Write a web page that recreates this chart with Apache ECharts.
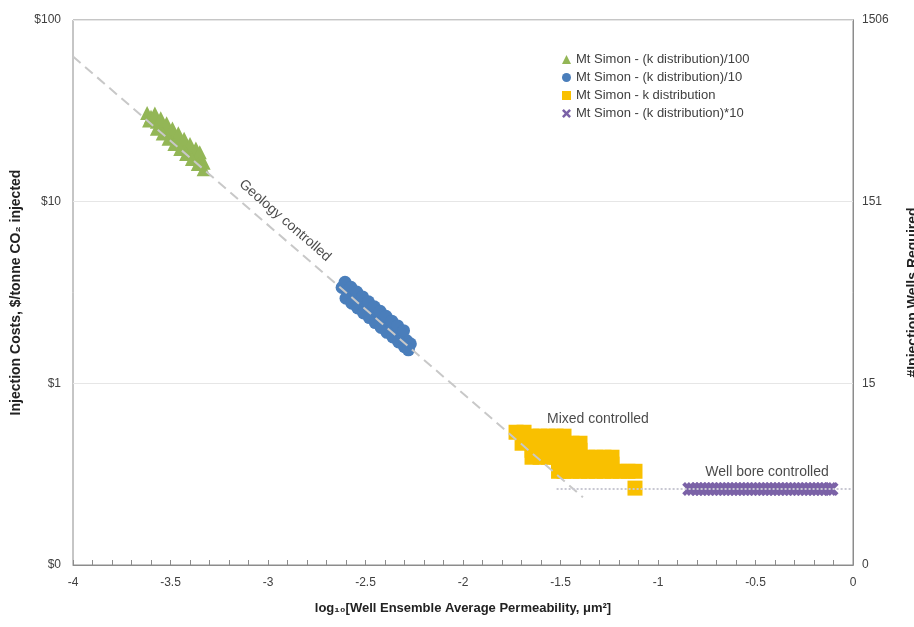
<!DOCTYPE html>
<html>
<head>
<meta charset="utf-8">
<script src="https://cdn.jsdelivr.net/npm/echarts@6/dist/echarts.min.js"></script>
<style>
  html, body { margin: 0; padding: 0; background: #fff; }
  #main { width: 914px; height: 627px; }
</style>
</head>
<body>
<div id="main"></div>
<script>
var myChart = echarts.init(document.getElementById('main'));

// series names
var names = [
    'Mt Simon - (k distribution)/100',
    'Mt Simon - (k distribution)/10',
    'Mt Simon - k distribution',
    'Mt Simon - (k distribution)*10'
];

// [log10 permeability, $/tonne]
var greenPts = [
    [-3.62, 30.8], [-3.61, 28.0],
    [-3.60, 29.3], [-3.57, 27.5], [-3.54, 25.8], [-3.51, 24.2], [-3.48, 22.7],
    [-3.45, 21.3], [-3.42, 19.9], [-3.39, 18.7], [-3.36, 17.5], [-3.33, 16.4],
    [-3.58, 30.6], [-3.55, 28.8], [-3.52, 27.0], [-3.49, 25.3], [-3.46, 23.8],
    [-3.43, 22.2], [-3.40, 20.8], [-3.37, 19.6], [-3.35, 18.7],
    [-3.57, 25.2], [-3.54, 23.7], [-3.51, 22.2], [-3.48, 20.8], [-3.45, 19.5],
    [-3.42, 18.3], [-3.39, 17.2], [-3.36, 16.1], [-3.33, 15.1]
];

var bluePts = [
    [-2.62, 3.37], [-2.59, 3.17], [-2.56, 2.98], [-2.53, 2.80], [-2.50, 2.64],
    [-2.47, 2.48], [-2.44, 2.33], [-2.41, 2.19], [-2.38, 2.06], [-2.35, 1.94],
    [-2.32, 1.83], [-2.29, 1.72], [-2.27, 1.65],
    [-2.605, 3.60], [-2.575, 3.38], [-2.545, 3.18], [-2.515, 2.99], [-2.485, 2.81],
    [-2.455, 2.64], [-2.425, 2.49], [-2.395, 2.34], [-2.365, 2.20], [-2.335, 2.07],
    [-2.305, 1.95],
    [-2.60, 2.94], [-2.57, 2.76], [-2.54, 2.60], [-2.51, 2.44], [-2.48, 2.30],
    [-2.45, 2.16], [-2.42, 2.03], [-2.39, 1.91], [-2.36, 1.80], [-2.33, 1.69],
    [-2.30, 1.59], [-2.28, 1.53]
];

var yellowPts = [
    [-1.728, 0.538], [-1.687, 0.538],
    [-1.646, 0.512], [-1.605, 0.512], [-1.564, 0.512], [-1.523, 0.512], [-1.482, 0.512],
    [-1.697, 0.468], [-1.646, 0.468], [-1.605, 0.468], [-1.564, 0.468], [-1.523, 0.468],
    [-1.482, 0.468], [-1.441, 0.468], [-1.400, 0.468],
    [-1.646, 0.428], [-1.605, 0.428], [-1.564, 0.428], [-1.523, 0.428], [-1.482, 0.428],
    [-1.441, 0.428], [-1.400, 0.428],
    [-1.646, 0.392], [-1.605, 0.392], [-1.564, 0.392], [-1.523, 0.392], [-1.482, 0.392],
    [-1.441, 0.392], [-1.400, 0.392], [-1.359, 0.392], [-1.318, 0.392], [-1.277, 0.392],
    [-1.236, 0.392],
    [-1.510, 0.359], [-1.482, 0.359], [-1.441, 0.359], [-1.400, 0.359], [-1.359, 0.359],
    [-1.318, 0.359], [-1.277, 0.359], [-1.236, 0.359],
    [-1.510, 0.328], [-1.482, 0.328], [-1.441, 0.328], [-1.400, 0.328], [-1.359, 0.328],
    [-1.318, 0.328], [-1.277, 0.328], [-1.236, 0.328], [-1.195, 0.328], [-1.154, 0.328],
    [-1.118, 0.328],
    [-1.118, 0.265]
];

var purplePts = [
    [-0.84, 0.262], [-0.82, 0.262], [-0.80, 0.262], [-0.78, 0.262], [-0.76, 0.262],
    [-0.74, 0.262], [-0.72, 0.262], [-0.70, 0.262], [-0.68, 0.262], [-0.66, 0.262],
    [-0.64, 0.262], [-0.62, 0.262], [-0.60, 0.262], [-0.58, 0.262], [-0.56, 0.262],
    [-0.54, 0.262], [-0.52, 0.262], [-0.50, 0.262], [-0.48, 0.262], [-0.46, 0.262],
    [-0.44, 0.262], [-0.42, 0.262], [-0.40, 0.262], [-0.38, 0.262], [-0.36, 0.262],
    [-0.34, 0.262], [-0.32, 0.262], [-0.30, 0.262], [-0.28, 0.262], [-0.26, 0.262],
    [-0.24, 0.262], [-0.22, 0.262], [-0.20, 0.262], [-0.18, 0.262], [-0.16, 0.262],
    [-0.14, 0.262], [-0.12, 0.262], [-0.11, 0.262]
];

// trend lines
var geologyLine = [[-4, 63.0], [-1.385, 0.236]];
var wellLine = [[-1.52, 0.262], [0, 0.262]];

// annotations
var annotText = ['Geology controlled', 'Mixed controlled', 'Well bore controlled'];
var annotPos = [[-2.913, 7.87], [-1.308, 0.634], [-0.441, 0.324]];
var annotRotate = [-41, 0, 0];

var font = 'Liberation Sans, Arial, sans-serif';
var crossPath = 'path://M0,2L2,0L5,3L8,0L10,2L7,5L10,8L8,10L5,7L2,10L0,8L3,5Z';

var annotData = annotPos.map(function (p, i) {
    return {
        value: p,
        label: { formatter: annotText[i], rotate: annotRotate[i] }
    };
});

var option = {
    animation: false,
    textStyle: { fontFamily: font },
    grid: {
        left: 73, right: 61, top: 20, bottom: 62,
        outerBoundsMode: 'none', containLabel: false,
        show: true, borderColor: '#8c8c8c', borderWidth: 1
    },
    legend: {
        data: names,
        orient: 'vertical',
        left: 562,
        top: 53,
        itemGap: 5,
        itemWidth: 9,
        itemHeight: 9,
        padding: 0,
        textStyle: { fontSize: 13, color: '#404040', fontFamily: font }
    },
    xAxis: {
        type: 'value',
        min: -4,
        max: 0,
        interval: 0.5,
        name: 'log\u2081\u2080[Well Ensemble Average Permeability, \u03bcm\u00b2]',
        nameLocation: 'middle',
        nameGap: 37,
        nameTextStyle: { fontSize: 13, fontWeight: 'bold', color: '#222' },
        axisLine: { lineStyle: { color: '#8c8c8c' } },
        axisTick: { show: true, inside: true, length: 5, lineStyle: { color: '#8c8c8c' } },
        minorTick: { show: true, splitNumber: 5, length: 5, lineStyle: { color: '#8c8c8c' } },
        axisLabel: { fontSize: 12, color: '#404040', margin: 12 },
        splitLine: { show: false }
    },
    yAxis: [
        {
            type: 'log',
            logBase: 10,
            min: 0.1,
            max: 100,
            name: 'Injection Costs, $/tonne CO\u2082 injected',
            nameLocation: 'middle',
            nameGap: 50,
            nameTextStyle: { fontSize: 14, fontWeight: 'bold', color: '#222' },
            axisLine: { show: true, lineStyle: { color: '#8c8c8c' } },
            axisTick: { show: false },
            axisLabel: {
                fontSize: 12, color: '#404040', margin: 12,
                formatter: function (v) { return v < 1 ? '$0' : '$' + Math.round(v); }
            },
            splitLine: { show: true, lineStyle: { color: '#e6e6e6' } }
        },
        {
            type: 'log',
            logBase: 10,
            min: 0.1,
            max: 100,
            position: 'right',
            name: '#Injection Wells Required',
            nameLocation: 'middle',
            nameGap: 53,
            nameTextStyle: { fontSize: 14, fontWeight: 'bold', color: '#222' },
            axisLine: { show: true, lineStyle: { color: '#8c8c8c' } },
            axisTick: { show: false },
            axisLabel: {
                fontSize: 12, color: '#404040', margin: 9,
                formatter: function (v) { return v < 1 ? '0' : String(Math.round(v * 15.06)); }
            },
            splitLine: { show: false }
        }
    ],
    series: [
        {
            name: names[0], type: 'scatter', symbol: 'triangle', symbolSize: 14,
            itemStyle: { color: '#93b656', opacity: 1 }, data: greenPts, z: 2
        },
        {
            name: names[1], type: 'scatter', symbol: 'circle', symbolSize: 13,
            itemStyle: { color: '#4a7ebb', opacity: 1 }, data: bluePts, z: 2
        },
        {
            name: names[2], type: 'scatter', symbol: 'rect', symbolSize: 15,
            itemStyle: { color: '#f9c000', opacity: 1 }, data: yellowPts, z: 2
        },
        {
            name: names[3], type: 'scatter', symbol: crossPath, symbolSize: 14,
            itemStyle: { color: '#7b62a7', opacity: 1 }, data: purplePts, z: 2
        },
        {
            name: 'geology', type: 'line', data: geologyLine, symbol: 'none', z: 4,
            lineStyle: { color: '#c8c8c8', width: 2, type: [10, 6] }
        },
        {
            name: 'wellbore', type: 'line', data: wellLine, symbol: 'none', z: 4,
            lineStyle: { color: '#c8c8d2', width: 2, type: [2, 2] }
        },
        {
            name: 'notes', type: 'scatter', symbolSize: 0, data: annotData, z: 5,
            label: { show: true, position: 'inside', fontSize: 14, color: '#1a1a1a', fontFamily: font }
        }
    ]
};

myChart.setOption(option);
</script>
</body>
</html>
